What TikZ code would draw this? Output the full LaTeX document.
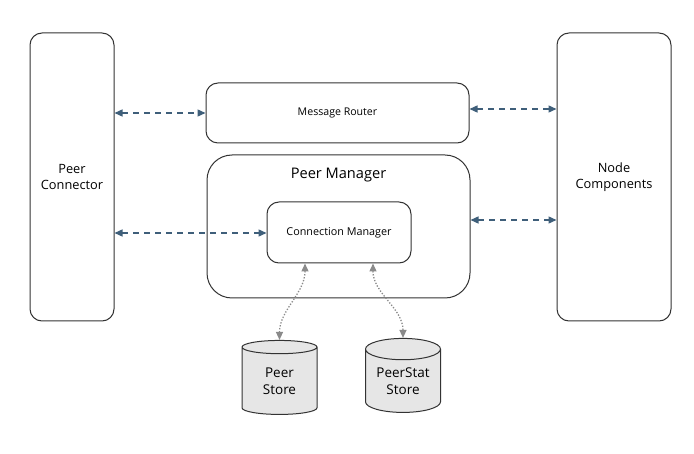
\documentclass[tikz,border=0pt]{standalone}
\usepackage{fontspec}
\setmainfont{Open Sans}
\usetikzlibrary{positioning,shapes.geometric,arrows.meta}
\definecolor{linkblue}{HTML}{3F5F7A}
\definecolor{dotgray}{HTML}{8A8A8A}
\definecolor{storegray}{HTML}{E6E6E6}
\definecolor{edgegray}{HTML}{333333}
\begin{document}
\begin{tikzpicture}[x=1pt,y=-1pt]
\tikzset{block/.style={draw=edgegray,line width=1pt,rounded corners=12pt,fill=white,
		inner sep=0pt,align=center,font=\fontsize{12.8}{16}\selectfont},
	store/.style={cylinder,shape border rotate=90,draw=edgegray,line width=1pt,fill=storegray,
		minimum width=75pt,minimum height=74pt,aspect=0.4,inner sep=0pt,align=center,
		font=\fontsize{13.5}{17}\selectfont},
	link/.style={linkblue,line width=1.4pt,dash pattern=on 6pt off 5pt,
		{Triangle[length=8pt,width=7pt]}-{Triangle[length=8pt,width=7pt]}},
	dblink/.style={dotgray,line width=1.3pt,dash pattern=on 1.3pt off 1.7pt,
		{Triangle[length=8pt,width=7pt]}-{Triangle[length=8pt,width=7pt]}}}
\useasboundingbox (0,0) rectangle (694,454);

\node[block,minimum width=84pt,minimum height=288pt] (pc) at (72,177) {Peer\\Connector};

\node[block,minimum width=114pt,minimum height=288pt] (nc) at (614,177) {Node\\Components};

\node[block,minimum width=263pt,minimum height=60pt,font=\fontsize{10.6}{13}\selectfont] (mr) at (337.5,113) {Message Router};

\node[block,minimum width=263pt,minimum height=143pt,rounded corners=25pt] (pm) at (338.5,226.5) {};
\node[font=\fontsize{14.6}{18}\selectfont] (pmt) [below = 10pt of pm.north] {Peer Manager};

\node[block,minimum width=144pt,minimum height=61pt,font=\fontsize{10.8}{13}\selectfont] (cm) at (339,232.5) {Connection Manager};

\node[store] (ps) at (279.5,381) {Peer\\Store};

\node[store] (pss) at (403,381) {PeerStat\\Store};

% free ends of the links
\coordinate (cmw) at ([yshift=-0.5pt]cm.west);
\coordinate (mre) at ([yshift=4pt]mr.east);
\coordinate (pme) at ([yshift=6.5pt]pm.east);
\coordinate (cml) at ([xshift=-34pt]cm.south);
\coordinate (cmr) at ([xshift=34pt]cm.south);

\draw[link] (pc.east |- mr.west) -- (mr.west);
\draw[link] (pc.east |- cmw) -- (cmw);
\draw[link] (mre) -- (nc.west |- mre);
\draw[link] (pme) -- (nc.west |- pme);

\draw[dblink] (cml) .. controls +(0,30) and +(0,-30) .. (ps.top);
\draw[dblink] (cmr) .. controls +(0,30) and +(0,-30) .. (pss.top);
\end{tikzpicture}
\end{document}
